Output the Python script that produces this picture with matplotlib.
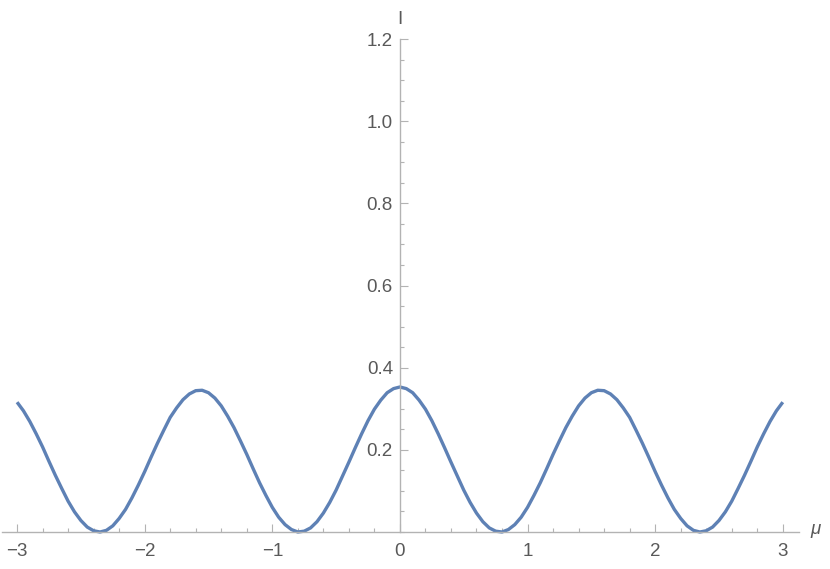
import numpy as np
import matplotlib.pyplot as plt
from matplotlib.ticker import MultipleLocator, FixedLocator

# intensity, mu from -3 to 3 in steps of 0.05
mu = np.round(np.linspace(-3, 3, 121), 2)
intensity_right = [
    0.353, 0.349, 0.339, 0.321, 0.299, 0.271, 0.239, 0.205, 0.170, 0.136,
    0.102, 0.072, 0.046, 0.025, 0.010, 0.002, 0.000, 0.006, 0.018, 0.036,
    0.060, 0.089, 0.120, 0.154, 0.189, 0.222, 0.254, 0.282, 0.307, 0.326,
    0.339, 0.345, 0.344, 0.336, 0.322, 0.302, 0.279, 0.248, 0.216, 0.182,
    0.147, 0.114, 0.083, 0.055, 0.033, 0.015, 0.004, 0.000, 0.003, 0.012,
    0.028, 0.049, 0.075, 0.106, 0.138, 0.172, 0.207, 0.239, 0.269, 0.295,
    0.316,
]
intensity = intensity_right[:0:-1] + intensity_right

x_ticks = [-3, -2, -1, 0, 1, 2, 3]
y_ticks = [0.2, 0.4, 0.6, 0.8, 1.0, 1.2]

plt.rcParams['font.family'] = ['Liberation Sans', 'DejaVu Sans']

axis_col = '#b3b3b3'
text_col = '#595959'
line_col = '#5e81b5'

fig = plt.figure(figsize=(8.3, 5.69), dpi=100)
ax = fig.add_axes([2 / 830, 1 - 532 / 569, 797 / 830, 493 / 569])

ax.plot(mu, intensity, color=line_col, lw=2.4, clip_on=False, solid_capstyle='butt')

ax.set_xlim(-3.118, 3.127)
ax.set_ylim(0, 1.2)

for s in ['top', 'right']:
    ax.spines[s].set_visible(False)
ax.spines['left'].set_position(('data', 0))
ax.spines['bottom'].set_position(('data', 0))
for s in ['left', 'bottom']:
    ax.spines[s].set_color(axis_col)
    ax.spines[s].set_linewidth(1.0)

ax.xaxis.set_major_locator(FixedLocator(x_ticks))
ax.xaxis.set_minor_locator(MultipleLocator(0.2))
ax.yaxis.set_major_locator(FixedLocator(y_ticks))
ax.yaxis.set_minor_locator(MultipleLocator(0.05))
ax.set_xticklabels([f'{v}'.replace('-', '\u2212') for v in x_ticks])
ax.set_yticklabels([f'{v:.1f}' for v in y_ticks])

ax.tick_params(which='both', direction='in', color=axis_col, width=0.8,
               labelcolor=text_col, labelsize=13.5)
ax.tick_params(which='major', length=5.8)
ax.tick_params(which='minor', length=3.2)
ax.tick_params(axis='x', pad=8)
ax.tick_params(axis='y', pad=5)

ax.text(0, 1.248, 'I', ha='center', va='center', color=text_col, fontsize=13.5)
ax.text(3.26, 0.005, 'μ', ha='center', va='center', color=text_col, fontsize=13.5,
        style='italic', clip_on=False)

fig.savefig('out.png', dpi=100)
